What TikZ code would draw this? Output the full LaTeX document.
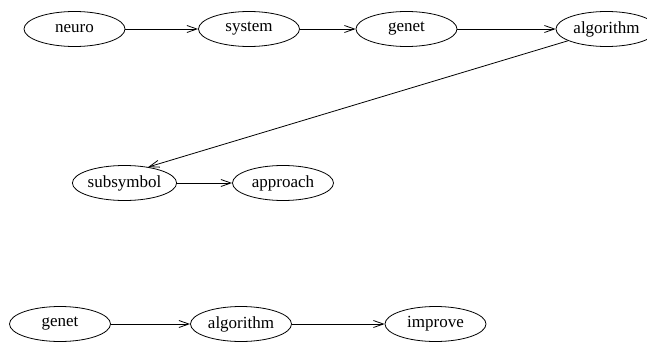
\documentclass[tikz,border=0pt]{standalone}
\usepackage{fontspec}
\setmainfont{Liberation Serif}
\usetikzlibrary{shapes.geometric, arrows.meta}

\begin{document}
\begin{tikzpicture}[x=1pt, y=-1pt,
  word/.style={ellipse, draw, line width=0.8pt, minimum width=101pt, minimum height=35pt, inner sep=0pt, font=\fontsize{17}{20}\selectfont},
  every edge/.style={draw, line width=0.8pt, -{Straight Barb[length=10pt, width=7pt]}}]
\useasboundingbox (0,0) rectangle (647,345);

\node[word](W0) at (74.5,29) {neuro};
\node[word](W1) at (249,29) {system};
\node[word](W2) at (406.5,29) {genet};
\node[word](W3) at (606.5,29) {algorithm};
\node[word](W4) at (124.5,183) {subsymbol};
\node[word](W5) at (283,183) {approach};
\node[word](W6) at (60,324) {genet};
\node[word](W7) at (241,324) {algorithm};
\node[word](W8) at (435.5,324) {improve};

\path(W0)edge(W1);
\path(W1)edge(W2);
\path(W2)edge(W3);
\path(W3.197)edge(W4.34);
\path(W4)edge(W5);
\path(W6)edge(W7);
\path(W7)edge(W8);
\end{tikzpicture}
\end{document}
